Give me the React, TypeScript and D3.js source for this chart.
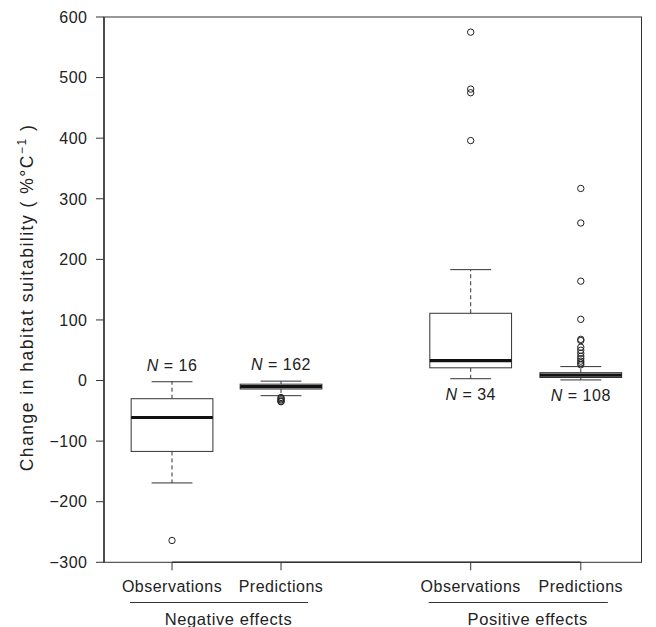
import React from "react";
import * as d3 from "d3";

// ---- data ----
const categories = ["Observations", "Predictions", "Observations", "Predictions"];
const positions = [1, 2, 3.74, 4.75];
const groups = ["Negative effects", "Positive effects"];
const groupMembers = [[0, 1], [2, 3]];
const whiskerLow = [-169, -25, 3, 1];
const q1 = [-117, -14, 21, 5];
const median = [-61, -10, 33, 9];
const q3 = [-30, -6, 111, 13];
const whiskerHigh = [-2, -1, 183, 23];
const outliers = [
  [-264],
  [-28, -30, -32, -34, -35],
  [396, 475, 481, 575],
  [317, 260, 164, 101, 68, 66, 55, 50, 45, 40, 36, 32, 29, 26],
];
const nLabels = ["16", "162", "34", "108"];
const nAbove = [true, true, false, false];
const yTicks = [-300, -200, -100, 0, 100, 200, 300, 400, 500, 600];

const W = 656;
const H = 627;
const left = 104;
const right = 641.5;
const top = 17;
const bottom = 562.3;

const ink = "#333";
const textInk = "#222";
const font = "Liberation Sans, Arial, Helvetica, sans-serif";

export default function App() {
  const y = d3.scaleLinear().domain([-300, 600]).range([bottom, top]);
  const x = d3.scaleLinear().domain([0.376, 5.307]).range([left, right]);
  const unit = x(1) - x(0);
  const boxW = 0.75 * unit;
  const capW = 0.375 * unit;
  const fmt = (v: number) => (v < 0 ? "\u2212" + Math.abs(v) : String(v));

  return (
    <svg
      width={W}
      height={H}
      style={{ position: "absolute", left: 0, top: 0, background: "#fff" }}
      fontFamily={font}
    >
      {/* frame */}
      <rect x={left} y={top} width={right - left} height={bottom - top} fill="none" stroke={ink} strokeWidth={1} />

      {/* y axis */}
      <line x1={left} x2={left} y1={y(600)} y2={y(-300)} stroke={ink} strokeWidth={1.5} />
      {yTicks.map((t) => (
        <g key={t}>
          <line x1={left - 8} x2={left} y1={y(t)} y2={y(t)} stroke={ink} strokeWidth={1} />
          <text
            x={left - 16.5}
            y={y(t)}
            dy="0.36em"
            textAnchor="end"
            fontSize={16}
            letterSpacing={0.5}
            fill={textInk}
          >
            {fmt(t)}
          </text>
        </g>
      ))}

      {/* y label */}
      <text
        transform={`translate(33,297.5) rotate(-90)`}
        textAnchor="middle"
        fontSize={17.5}
        letterSpacing={1.5}
        fill={textInk}
      >
        Change in habitat suitability ( %°C
        <tspan fontSize={12} dy={-7}>
          {"\u22121"}
        </tspan>
        <tspan dy={7}> )</tspan>
      </text>

      {/* x axis */}
      <line
        x1={x(positions[0])}
        x2={x(positions[positions.length - 1])}
        y1={bottom}
        y2={bottom}
        stroke={ink}
        strokeWidth={1.5}
      />
      {positions.map((p, i) => (
        <g key={i}>
          <line x1={x(p)} x2={x(p)} y1={bottom} y2={bottom + 8} stroke={ink} strokeWidth={1} />
          <text x={x(p)} y={591.5} textAnchor="middle" fontSize={16} letterSpacing={0.5} fill={textInk}>
            {categories[i]}
          </text>
        </g>
      ))}

      {/* group labels */}
      {groups.map((g, gi) => {
        const a = x(positions[groupMembers[gi][0]]);
        const b = x(positions[groupMembers[gi][1]]);
        return (
          <g key={g}>
            <line x1={a - 42} x2={b + 27} y1={602.5} y2={602.5} stroke={ink} strokeWidth={1} />
            <text x={(a + b) / 2 + 2} y={625} textAnchor="middle" fontSize={16.5} letterSpacing={0.6} fill={textInk}>
              {g}
            </text>
          </g>
        );
      })}

      {/* boxes */}
      {positions.map((p, i) => {
        const cx = x(p);
        return (
          <g key={"b" + i}>
            <line x1={cx} x2={cx} y1={y(q3[i])} y2={y(whiskerHigh[i])} stroke={ink} strokeWidth={1} strokeDasharray="4,3" />
            <line x1={cx} x2={cx} y1={y(q1[i])} y2={y(whiskerLow[i])} stroke={ink} strokeWidth={1} strokeDasharray="4,3" />
            <line x1={cx - capW / 2} x2={cx + capW / 2} y1={y(whiskerHigh[i])} y2={y(whiskerHigh[i])} stroke={ink} strokeWidth={1} />
            <line x1={cx - capW / 2} x2={cx + capW / 2} y1={y(whiskerLow[i])} y2={y(whiskerLow[i])} stroke={ink} strokeWidth={1} />
            <rect
              x={cx - boxW / 2}
              y={y(q3[i])}
              width={boxW}
              height={y(q1[i]) - y(q3[i])}
              fill="#fff"
              stroke={ink}
              strokeWidth={1}
            />
            <line x1={cx - boxW / 2} x2={cx + boxW / 2} y1={y(median[i])} y2={y(median[i])} stroke="#111" strokeWidth={3.2} />
            {outliers[i].map((o, k) => (
              <circle key={k} cx={cx} cy={y(o)} r={3.2} fill="none" stroke="#222" strokeWidth={1} />
            ))}
            <text
              x={cx}
              y={nAbove[i] ? y(whiskerHigh[i]) - 11 : y(whiskerLow[i]) + 21}
              textAnchor="middle"
              fontSize={16}
              letterSpacing={0.5}
              fill={textInk}
            >
              <tspan fontStyle="italic">N</tspan> = {nLabels[i]}
            </text>
          </g>
        );
      })}
    </svg>
  );
}
